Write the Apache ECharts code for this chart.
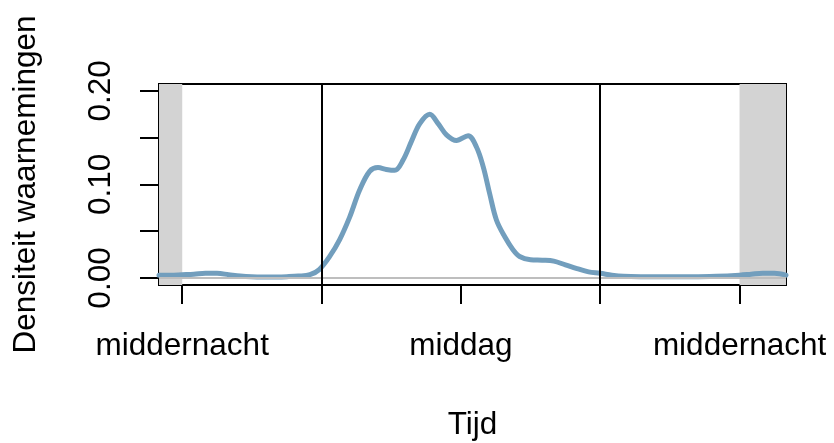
<!DOCTYPE html>
<html>
<head>
<meta charset="utf-8">
<title>Densiteit waarnemingen</title>
<script src="https://cdn.jsdelivr.net/npm/echarts@6/dist/echarts.min.js"></script>
<style>
  html, body { margin: 0; padding: 0; background: #fff; }
  #chart { width: 834px; height: 443px; }
</style>
</head>
<body>
<div id="chart"></div>
<script>
// Activity density over the day (hours, -1 .. 26)
const hours = [
  -1.0, -0.5, 0.0, 0.5, 1.0, 1.5, 2.0, 2.5, 3.0, 3.5, 4.0, 4.5, 5.0, 5.5, 5.9,
  6.35, 6.78, 7.21, 7.64, 8.07, 8.43, 8.79, 9.15, 9.51, 9.87, 10.23, 10.66,
  11.02, 11.38, 11.81, 12.31, 12.67, 12.96, 13.24, 13.53, 13.89, 14.25, 14.53,
  15.0, 15.5, 16.0, 16.5, 17.0, 17.5, 18.0, 18.5, 19.0, 20.0, 21.0, 22.0, 23.0,
  24.0, 24.5, 25.0, 25.5, 26.0
];
const density = [
  0.003, 0.003, 0.0035, 0.004, 0.005, 0.005, 0.0035, 0.002, 0.0012, 0.001, 0.0011, 0.0014, 0.002, 0.0035, 0.009,
  0.023, 0.041, 0.065, 0.094, 0.114, 0.118, 0.116, 0.115, 0.126, 0.146, 0.165, 0.175,
  0.165, 0.153, 0.147, 0.152, 0.140, 0.119, 0.090, 0.062, 0.044, 0.030, 0.023,
  0.0195, 0.019, 0.018, 0.014, 0.010, 0.0065, 0.005, 0.003, 0.0018, 0.0014, 0.0013, 0.0013, 0.0018,
  0.003, 0.004, 0.005, 0.005, 0.003
];

// Axis ticks and labels
const xTicks = [0, 6, 12, 18, 24];
const xLabelValues = [0, 12, 24];
const xLabels = ['middernacht', 'middag', 'middernacht'];
const yTicks = [0, 0.05, 0.10, 0.15, 0.20];
const yLabelValues = [0, 0.10, 0.20];

// Night periods and sunrise / sunset
const nightBands = [[-1, 0], [24, 26]];
const dayLines = [6, 18];

const xTitle = 'Tijd';
const yTitle = 'Densiteit waarnemingen';

const FONT = 'Liberation Sans, Arial, sans-serif';
const FS = 31.5;
const chart = echarts.init(document.getElementById('chart'), null, { renderer: 'canvas' });

const lineData = hours.map((h, i) => [h, density[i]]);

chart.setOption({
  animation: false,
  backgroundColor: '#ffffff',
  textStyle: { fontFamily: FONT },
  grid: {
    left: 159, right: 48, top: 84, bottom: 158,
    containLabel: false, outerBoundsMode: 'none',
    show: true, borderColor: '#000', borderWidth: 2, backgroundColor: 'transparent'
  },
  xAxis: {
    type: 'value', min: -1, max: 26,
    name: xTitle, nameLocation: 'middle', nameGap: 124,
    nameTextStyle: { fontSize: FS, color: '#000', fontFamily: FONT },
    axisLine: { show: false, onZero: false },
    splitLine: { show: false },
    axisTick: {
      show: true, customValues: xTicks, length: 19, inside: false,
      lineStyle: { color: '#000', width: 2 }
    },
    axisLabel: {
      show: true, customValues: xLabelValues, margin: 45,
      fontSize: FS, color: '#000', fontFamily: FONT,
      formatter: v => xLabels[xLabelValues.indexOf(v)]
    }
  },
  yAxis: {
    type: 'value', min: -0.0075, max: 0.2073,
    name: yTitle, nameLocation: 'middle', nameGap: 117, nameRotate: 90,
    nameTextStyle: { fontSize: FS, color: '#000', fontFamily: FONT },
    axisLine: { show: false, onZero: false },
    splitLine: { show: false },
    axisTick: {
      show: true, customValues: yTicks, length: 19, inside: false,
      lineStyle: { color: '#000', width: 2 }
    },
    axisLabel: {
      show: true, customValues: yLabelValues, margin: 42, rotate: 90,
      fontSize: FS, color: '#000', fontFamily: FONT,
      formatter: v => v.toFixed(2)
    }
  },
  series: [
    {
      type: 'line', data: [], silent: true, z: 1,
      markArea: {
        silent: true,
        itemStyle: { color: '#d3d3d3' },
        data: nightBands.map(b => [{ xAxis: b[0], yAxis: -0.0075 }, { xAxis: b[1], yAxis: 0.2073 }])
      },
      markLine: {
        silent: true, symbol: 'none', label: { show: false },
        data: [
          { yAxis: 0, lineStyle: { color: '#bebebe', width: 2, type: 'solid' } },
          ...dayLines.map(d => ({ xAxis: d, lineStyle: { color: '#000', width: 2, type: 'solid' } }))
        ]
      }
    },
    {
      type: 'line', data: lineData, z: 3,
      smooth: 0.35, showSymbol: false, symbol: 'none',
      lineStyle: { color: '#729ebd', width: 5, cap: 'round', join: 'round' }
    }
  ]
});
</script>
</body>
</html>
